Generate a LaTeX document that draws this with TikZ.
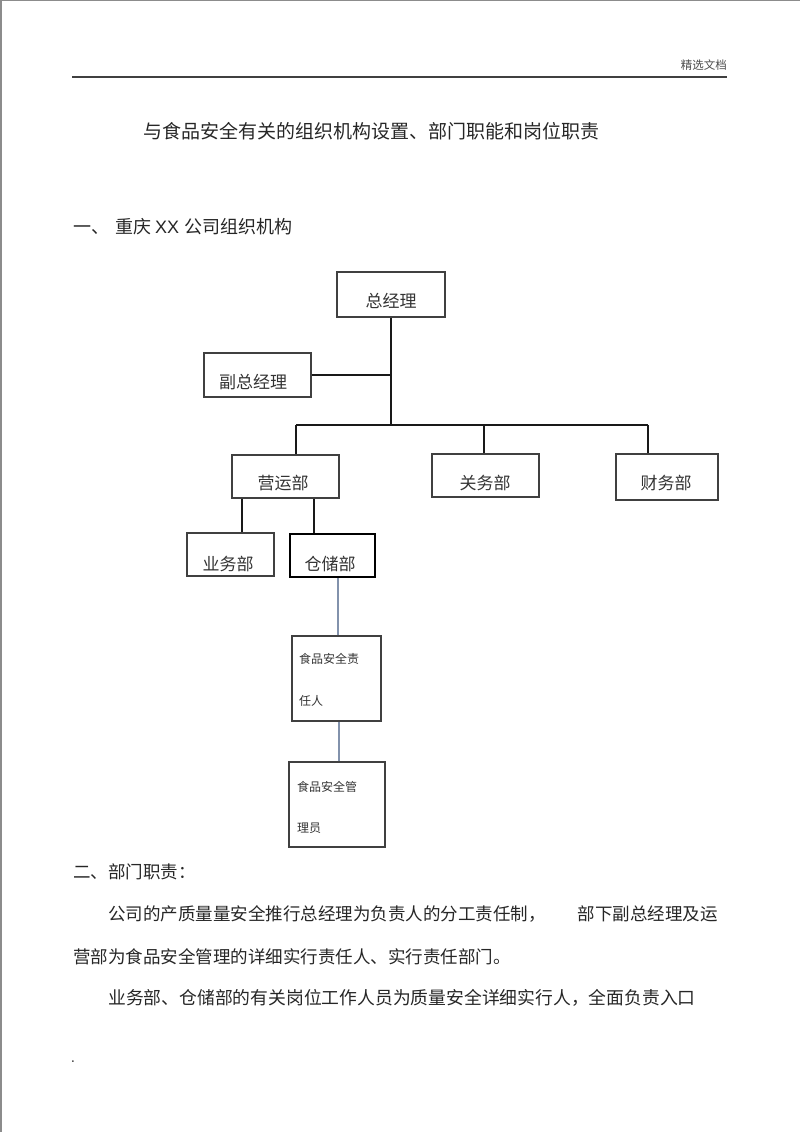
\documentclass[tikz,border=0pt]{standalone}
\usepackage{fontspec}
\usepackage{tikz}
\newfontfamily\cjk{Noto Sans CJK SC}
\newfontfamily\arialfont{Liberation Sans}
\definecolor{linkblue}{RGB}{130,146,172}

\begin{document}
\begin{tikzpicture}[x=1pt,y={(0pt,-1pt)},
    box/.style={draw=black!75, line width=1.1pt, inner sep=0pt},
    boxtext/.style={font=\cjk\fontsize{17}{20}\selectfont, text=black!80, inner sep=0pt},
    smalltext/.style={font=\cjk\fontsize{12}{14}\selectfont, text=black!80, inner sep=0pt, anchor=west},
    bodytext/.style={font=\cjk\fontsize{17.5}{20}\selectfont, text=black!85, inner sep=0pt, anchor=west},
    link/.style={line width=2pt, black!90},
    bluelink/.style={line width=2pt, linkblue}]
    \useasboundingbox (0,0) rectangle (800,1132);
    % Page edge and header
    \draw [black!45, line width=1.5pt] (0.75,1132) -- (0.75,0.75) -- (800,0.75);
    \node [font=\cjk\fontsize{11.5}{13}\selectfont, text=black!70, anchor=east, inner sep=0pt] (header) at (727,65) {精选文档};
    \draw [black!75, line width=1.6pt] (72,77) -- (727,77);
    % Titles
    \node [font=\cjk\fontsize{19}{22}\selectfont, text=black!85, anchor=west, inner sep=0pt] (title) at (143,131)
        {与食品安全有关的组织机构设置、部门职能和岗位职责};
    \node [font=\cjk\fontsize{18}{21}\selectfont, text=black!85, anchor=west, inner sep=0pt] (section) at (73,227)
        {一、\hspace{6pt}重庆\hspace{4pt}{\arialfont XX}\hspace{5pt}公司组织机构};

    % Draw the boxes
    \node [box, minimum width=108pt, minimum height=45pt] (zjl) at (391,294.5) {};
    \node [box, minimum width=107pt, minimum height=44pt] (fzjl) at (257.5,375) {};
    \node [box, minimum width=107pt, minimum height=43pt] (yyb) at (285.5,476.5) {};
    \node [box, minimum width=107pt, minimum height=43pt] (gwb) at (485.5,475.5) {};
    \node [box, minimum width=102pt, minimum height=46pt] (cwb) at (667,477) {};
    \node [box, minimum width=87pt, minimum height=43pt] (ywb) at (230.5,554.5) {};
    \node [box, draw=black, line width=2pt, minimum width=85pt, minimum height=43pt] (ccb) at (332.5,555.5) {};
    \node [box, minimum width=89pt, minimum height=85pt] (zrr) at (336.5,678.5) {};
    \node [box, minimum width=96pt, minimum height=85pt] (gly) at (337,804.5) {};

    \node [boxtext] (zjl-t) at (391,301) {总经理};
    \node [boxtext] (fzjl-t) at (253,382) {副总经理};
    \node [boxtext] (yyb-t) at (283,483) {营运部};
    \node [boxtext] (gwb-t) at (485,483) {关务部};
    \node [boxtext] (cwb-t) at (666,483) {财务部};
    \node [boxtext] (ywb-t) at (228,564) {业务部};
    \node [boxtext] (ccb-t) at (330,564) {仓储部};
    \node [smalltext] (zrr-t1) at (299,659) {食品安全责};
    \node [smalltext] (zrr-t2) at (299,701) {任人};
    \node [smalltext] (gly-t1) at (297,787) {食品安全管};
    \node [smalltext] (gly-t2) at (297,828) {理员};

    % Draw the connectors
    \coordinate (barL) at (296,425);
    \coordinate (barR) at (648,425);
    \draw [link] (barL) -- (barR);
    \draw [link] (zjl.south) -- (zjl.south |- barL);
    \draw [link] (fzjl.east) -- (fzjl.east -| zjl.south);
    \draw [link] (barL) -- (barL |- yyb.north);
    \draw [link] ([xshift=-1.5pt]gwb.north |- barL) -- ([xshift=-1.5pt]gwb.north);
    \draw [link] (barR) -- (barR |- cwb.north);
    \draw [link] ([xshift=-43.5pt]yyb.south) -- ([xshift=-43.5pt]yyb.south |- ywb.north);
    \draw [link] ([xshift=28.5pt]yyb.south) -- ([xshift=28.5pt]yyb.south |- ccb.north);
    \draw [bluelink] ([xshift=1pt]zrr.north) -- ([xshift=1pt]zrr.north |- ccb.south);
    \draw [bluelink] ([xshift=2pt]gly.north) -- ([xshift=2pt]gly.north |- zrr.south);

    % Paragraphs
    \node [bodytext] (part2) at (73,872) {二、部门职责：};
    \node [bodytext] (line1) at (108,914) {公司的产质量量安全推行总经理为负责人的分工责任制，\hspace*{32pt}部下副总经理及运};
    \node [bodytext] (line2) at (73,957) {营部为食品安全管理的详细实行责任人、实行责任部门。};
    \node [bodytext, font=\cjk\fontsize{17.8}{20}\selectfont] (line3) at (108,998) {业务部、仓储部的有关岗位工作人员为质量安全详细实行人，全面负责入口};
    \node [font=\bfseries\fontsize{12}{12}\selectfont, text=black!85, inner sep=0pt] (dot) at (73,1062) {.};
\end{tikzpicture}
\end{document}
